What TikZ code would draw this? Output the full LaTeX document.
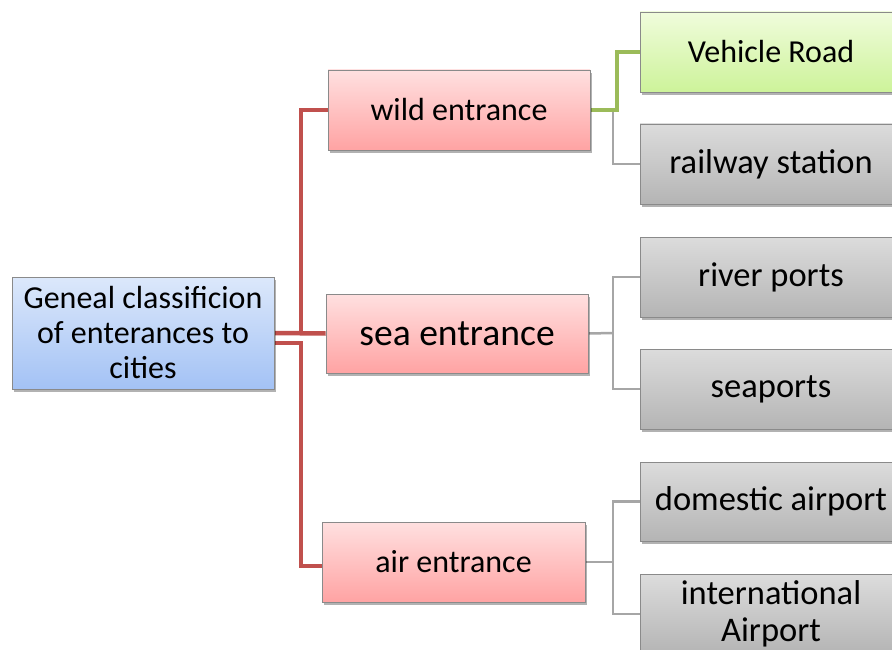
\documentclass[tikz,border=0pt]{standalone}
\usepackage{fontspec}
\setmainfont{Carlito}
\usetikzlibrary{shadows,backgrounds}
\definecolor{redc}{HTML}{C0504D}
\definecolor{greenc}{HTML}{9BBB59}
\definecolor{grayc}{HTML}{A6A6A6}
\definecolor{edgec}{HTML}{8A8A8A}
\begin{document}
\begin{tikzpicture}[x=1pt,y=-1pt,
  box/.style={draw=edgec, line width=0.8pt, minimum height=80pt, minimum width=262pt,
    align=center, inner sep=0pt, font=\fontsize{32}{35}\selectfont,
    drop shadow={shadow xshift=2pt, shadow yshift=-3pt, opacity=.3, fill=black}},
  rootbox/.style={box, top color={rgb,255:red,220;green,232;blue,251}, bottom color={rgb,255:red,163;green,194;blue,245}, minimum height=112pt},
  pinkbox/.style={box, top color={rgb,255:red,255;green,224;blue,224}, bottom color={rgb,255:red,255;green,163;blue,163}},
  greenbox/.style={box, top color={rgb,255:red,240;green,252;blue,220}, bottom color={rgb,255:red,205;green,243;blue,154}},
  graybox/.style={box, top color={rgb,255:red,220;green,220;blue,220}, bottom color={rgb,255:red,180;green,180;blue,180}, font=\fontsize{34.5}{37}\selectfont},
  redline/.style={draw=redc, line width=4.5pt},
  greenline/.style={draw=greenc, line width=4.5pt},
  grayline/.style={draw=grayc, line width=2.5pt}
]
\clip (0,0) rectangle (892,650);

\node[rootbox] (root) at (143,333) {Geneal classificion\\of enterances to\\cities};
\node[pinkbox] (wild) at (459,110) {wild entrance};
\node[pinkbox, minimum height=79pt, font=\fontsize{37.6}{40}\selectfont] (sea) at (457,333.5) {sea entrance};
\node[pinkbox, minimum width=263pt] (air) at (453.5,562) {air entrance};

\node[greenbox] (veh) at (771,52) {Vehicle Road};
\node[graybox] (rail) at (771,164) {railway station};
\node[graybox] (river) at (771,277) {river ports};
\node[graybox] (seap) at (771,389) {seaports};
\node[graybox, minimum height=79pt] (dom) at (771,501.5) {domestic airport};
\node[graybox] (intl) at (771,614) {international\\Airport};

\begin{scope}[on background layer]
  \fill[white] (0,0) rectangle (892,650);
  \coordinate (rt) at (301,333);
  \coordinate (rb) at (301,343);
  \draw[redline] (root.east) -- (sea.west);
  \draw[redline] (root.east) -- (rt) |- (wild.west);
  \draw[redline] ([yshift=-10pt]root.east) -- (rb) |- ([yshift=-4pt]air.west);

  \coordinate (gw) at (613,110);
  \coordinate (gv) at (617,110);
  \draw[grayline] (gw) |- (rail.west);
  \draw[greenline] (wild.east) -- (gv) |- (veh.west);

  \coordinate (gs) at (613,333);
  \draw[grayline] (sea.east) -- (gs);
  \draw[grayline] (gs) |- (river.west);
  \draw[grayline] (gs) |- (seap.west);

  \coordinate (ga) at (613,562);
  \draw[grayline] (air.east) -- (ga);
  \draw[grayline] (ga) |- (dom.west);
  \draw[grayline] (ga) |- (intl.west);
\end{scope}
\end{tikzpicture}
\end{document}
